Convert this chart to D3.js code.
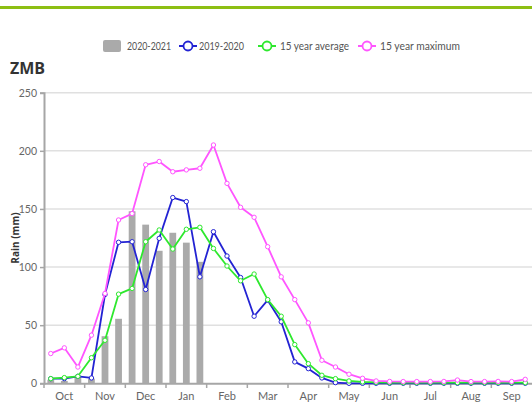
<!DOCTYPE html>
<html>
<head>
<meta charset="utf-8">
<script src="https://cdn.jsdelivr.net/npm/d3@7/dist/d3.min.js"></script>
<style>
  html, body { margin: 0; padding: 0; background: #fff; }
  svg { display: block; font-family: "Open Sans", "Noto Sans", sans-serif; }
</style>
</head>
<body>
<svg id="chart" width="532" height="403"></svg>
<script>
// Dekadal rainfall (mm) for Zambia, season runs Oct → Sep, three dekads per month
const months = ["Oct", "Nov", "Dec", "Jan", "Feb", "Mar", "Apr", "May", "Jun", "Jul", "Aug", "Sep"];
const dekads = d3.range(36);

const season2021 = [3, 2, 6, 4, 40.5, 55.5, 148, 136.5, 114, 129.5, 121, 104.5];

const season1920 = [4, 4, 6, 4.6, 76.4, 121.3, 121.8, 80.7, 124.7, 159.8, 156.3, 91.6,
  130.4, 109.5, 91, 57.7, 71.5, 52.9, 18.4, 12.6, 4.6, 0.6, 0, 0,
  0, 0, 0, 0, 0, 0, 0, 0, 0, 0, 0, 0];

const avg15 = [4, 4.9, 6, 22, 37, 76.7, 81.6, 121.8, 131.9, 115.5, 132.5, 134.2,
  116, 100.9, 88.2, 94, 72, 57.7, 33.3, 16.9, 6.9, 4, 2, 1.2,
  0.8, 0.6, 0.5, 0.5, 0.5, 0.5, 0.5, 0.5, 0.5, 0.5, 0.5, 0.5];

const max15 = [25.6, 30.5, 14, 41.4, 77.3, 140.5, 146, 188, 190.8, 182, 183.6, 185,
  205, 172, 151.4, 142.8, 117.5, 91.6, 72, 52, 19.8, 14, 7.8, 4.3,
  2, 1.6, 1.5, 1.5, 1.5, 1.6, 2.8, 1.5, 1.5, 1.6, 1.5, 3.4];

const yTicks = [0, 50, 100, 150, 200, 250];

const legendItems = [
  { name: "2020-2021", color: "#aaaaaa", type: "bar", x: 103, tx: 127, w: 44 },
  { name: "2019-2020", color: "#2323d3", type: "line", x: 179, tx: 199, w: 45 },
  { name: "15 year average", color: "#2ee82e", type: "line", x: 258, tx: 280, w: 69 },
  { name: "15 year maximum", color: "#ff55ff", type: "line", x: 358, tx: 380, w: 80 }
];

const series = [
  { values: season1920, color: "#2323d3" },
  { values: avg15, color: "#2ee82e" },
  { values: max15, color: "#ff55ff" }
];

const svg = d3.select("#chart");

// header bar
svg.append("rect").attr("x", 0).attr("y", 6).attr("width", 532).attr("height", 3)
  .attr("fill", "#8dbf13");

const x = d3.scaleBand().domain(dekads).range([44, 532]);
const xMonth = d3.scaleBand().domain(months).range([44, 532]);
const y = d3.scaleLinear().domain([0, 250]).range([383.3, 92.7]);

// grid lines
svg.append("g").selectAll("line").data(yTicks.filter(d => d > 0)).join("line")
  .attr("x1", 44).attr("x2", 532)
  .attr("y1", d => y(d)).attr("y2", d => y(d))
  .attr("stroke", "#e0e0e0").attr("stroke-width", 1.5);

// y axis
const yAxis = svg.append("g").attr("transform", "translate(44,0)")
  .call(d3.axisLeft(y).tickValues(yTicks).tickSize(4).tickPadding(3));
yAxis.select(".domain").attr("stroke", "#a6a6a6").attr("stroke-width", 2);
yAxis.selectAll(".tick line").attr("stroke", "#a6a6a6").attr("stroke-width", 1.5);
yAxis.selectAll(".tick text").attr("fill", "#666").attr("font-size", 10.5)
  .attr("font-family", "Lato, 'Open Sans', sans-serif");

// x axis: ticks on month boundaries, labels centred on months
const xAxis = svg.append("g").attr("transform", "translate(0,383.3)")
  .call(d3.axisBottom(xMonth).tickSize(0).tickPadding(9));
xAxis.select(".domain").attr("stroke", "#a6a6a6").attr("stroke-width", 2);
xAxis.selectAll(".tick text").attr("fill", "#666").attr("font-size", 11)
  .attr("font-family", "Lato, 'Open Sans', sans-serif");
svg.append("g").selectAll("line").data(months).join("line")
  .attr("x1", d => xMonth(d)).attr("x2", d => xMonth(d))
  .attr("y1", 383.3).attr("y2", 388)
  .attr("stroke", "#a6a6a6").attr("stroke-width", 1.5);

// bars for current season
const barW = x.bandwidth() * 0.5;
svg.append("g").selectAll("rect").data(season2021).join("rect")
  .attr("x", (d, i) => x(i) + (x.bandwidth() - barW) / 2)
  .attr("width", barW)
  .attr("y", d => y(d))
  .attr("height", d => y(0) - y(d))
  .attr("fill", "#aaaaaa");

// lines with open circle markers
const line = d3.line().x((d, i) => x(i) + x.bandwidth() / 2).y(d => y(d));
series.forEach(s => {
  const g = svg.append("g");
  g.append("path").datum(s.values).attr("d", line)
    .attr("fill", "none").attr("stroke", s.color).attr("stroke-width", 1.8)
    .attr("stroke-linejoin", "round");
  g.selectAll("circle").data(s.values).join("circle")
    .attr("cx", (d, i) => x(i) + x.bandwidth() / 2)
    .attr("cy", d => y(d))
    .attr("r", 2.2)
    .attr("fill", "#fff").attr("stroke", s.color).attr("stroke-width", 1);
});

// legend
const lg = svg.append("g").attr("font-size", 10.5).attr("fill", "#555")
  .attr("font-family", "Lato, 'Open Sans', sans-serif");
legendItems.forEach(it => {
  const g = lg.append("g").attr("transform", `translate(${it.x},46)`);
  if (it.type === "bar") {
    g.append("rect").attr("x", 0).attr("y", -6).attr("width", 18).attr("height", 12)
      .attr("rx", 2).attr("fill", it.color);
  } else {
    g.append("line").attr("x1", 0).attr("x2", 18).attr("y1", 0).attr("y2", 0)
      .attr("stroke", it.color).attr("stroke-width", 2);
    g.append("circle").attr("cx", 9).attr("cy", 0).attr("r", 4.5)
      .attr("fill", "#fff").attr("stroke", it.color).attr("stroke-width", 1.8);
  }
  g.append("text").attr("x", it.tx - it.x).attr("y", 4)
    .attr("textLength", it.w).attr("lengthAdjust", "spacingAndGlyphs")
    .text(it.name);
});

// title
svg.append("text").attr("x", 10).attr("y", 74).attr("font-size", 16)
  .attr("font-weight", "bold").attr("fill", "#333").text("ZMB");

// y axis title
svg.append("text").attr("transform", "translate(19,238) rotate(-90)")
  .attr("text-anchor", "middle").attr("font-size", 10).attr("font-weight", "bold")
  .attr("fill", "#333").text("Rain (mm)");
</script>
</body>
</html>
